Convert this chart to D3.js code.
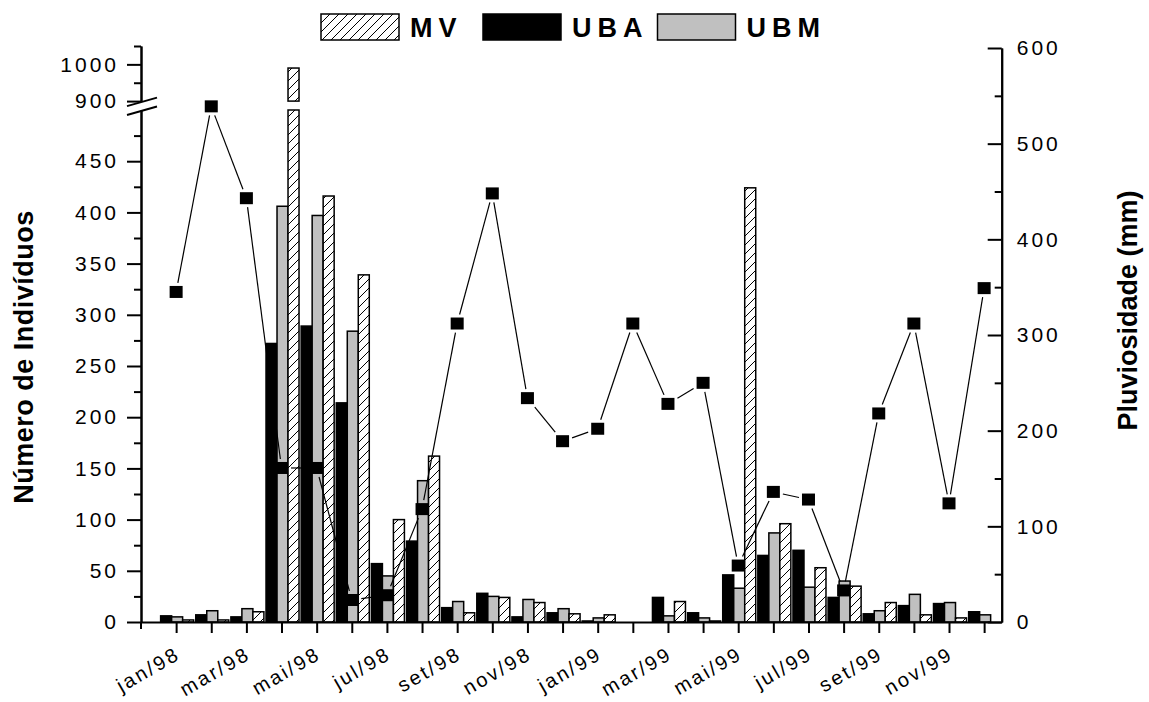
<!DOCTYPE html>
<html>
<head>
<meta charset="utf-8">
<script src="https://cdn.jsdelivr.net/npm/d3@7"></script>
<style>
  body { margin: 0; background: #fff; }
  svg { display: block; }
  text { font-family: "Liberation Sans", Arial, sans-serif; fill: #000; }
</style>
</head>
<body>
<svg id="chart" width="1149" height="702"></svg>
<script>
// Monthly samples, jan/98 .. dez/99
const months = ["jan/98","fev/98","mar/98","abr/98","mai/98","jun/98","jul/98","ago/98","set/98","out/98","nov/98","dez/98",
                "jan/99","fev/99","mar/99","abr/99","mai/99","jun/99","jul/99","ago/99","set/99","out/99","nov/99","dez/99"];
const monthLabels = ["jan/98","mar/98","mai/98","jul/98","set/98","nov/98","jan/99","mar/99","mai/99","jul/99","set/99","nov/99"];

// Number of individuals per site (null = no sample)
const uba = [6, 7, 5, 272, 289, 214, 57, 79, 14, 28, 5, 9, 1, null, 24, 9, 46, 65, 70, 24, 8, 16, 18, 10];
const ubm = [5, 11, 13, 406, 397, 284, 45, 138, 20, 25, 22, 13, 4, null, 6, 4, 33, 87, 34, 40, 11, 27, 19, 7];
const mv  = [2, 2, 10, 990, 416, 339, 100, 162, 9, 24, 19, 8, 7, null, 20, 1, 424, 96, 53, 35, 19, 7, 4, null];

// Monthly rainfall (mm)
const rain = [345, 539, 443, 161, 161, 23, 28, 118, 312, 448, 234, 189, 202, 312, 228, 250, 59, 136, 128, 33, 218, 312, 124, 349];

// Axis ticks
const leftLowTicks = [0, 50, 100, 150, 200, 250, 300, 350, 400, 450];
const leftLowMinor = [25, 75, 125, 175, 225, 275, 325, 375, 425, 475];
const leftHighTicks = [900, 1000];
const leftHighMinor = [950, 1050];
const rightTicks = [0, 100, 200, 300, 400, 500, 600];
const rightMinor = [50, 150, 250, 350, 450, 550];

const seriesNames = ["MV", "UBA", "UBM"];

const svg = d3.select("#chart");
const FONT = "\"Liberation Sans\", Arial, sans-serif";

// Scales
const x = d3.scaleLinear().domain([-1, 23.5]).range([141, 1001.7]);
const yLow = d3.scaleLinear().domain([0, 500]).range([622, 110]);      // lower segment of broken axis
const yHigh = d3.scaleLinear().domain([900, 1050]).range([101.1, 46]); // upper segment
const yR = d3.scaleLinear().domain([0, 600]).range([622, 48]);

// Hatch pattern for MV
const defs = svg.append("defs");
const pat = defs.append("pattern").attr("id", "hatch")
  .attr("patternUnits", "userSpaceOnUse").attr("width", 9).attr("height", 9);
pat.append("rect").attr("width", 9).attr("height", 9).attr("fill", "#fff");
pat.append("path").attr("d", "M-1,1 L1,-1 M0,9 L9,0 M8,10 L10,8")
  .attr("stroke", "#000").attr("stroke-width", 1);

const fills = { UBA: "#000", UBM: "#c0c0c0", MV: "url(#hatch)" };

// Bars: UBA, UBM, MV side by side around each month
const bw = 11;
const barSeries = [
  { name: "UBA", values: uba, k: -1 },
  { name: "UBM", values: ubm, k: 0 },
  { name: "MV",  values: mv,  k: 1 }
];
const barRects = [];
barSeries.forEach(s => {
  s.values.forEach((v, i) => {
    if (v == null) return;
    const cx = x(i) + 1 + s.k * bw;
    if (v <= 500) {
      barRects.push({ s: s.name, x0: cx - bw / 2, y0: yLow(v), y1: yLow(0) });
    } else {
      barRects.push({ s: s.name, x0: cx - bw / 2, y0: yLow(500), y1: yLow(0) });
      barRects.push({ s: s.name, x0: cx - bw / 2, y0: yHigh(v), y1: yHigh(900) });
    }
  });
});
svg.append("g").selectAll("rect").data(barRects).join("rect")
  .attr("x", d => d.x0).attr("y", d => d.y0)
  .attr("width", bw).attr("height", d => Math.max(0, d.y1 - d.y0))
  .attr("fill", d => fills[d.s])
  .attr("stroke", "#000").attr("stroke-width", 1.5);

// Rainfall line, segments stop short of the markers
const mw = 13, mh = 12, gap = 3;
const pts = rain.map((r, i) => [x(i), yR(r)]);
const segs = [];
for (let i = 0; i < pts.length - 1; i++) {
  const [ax, ay] = pts[i], [bx, by] = pts[i + 1];
  const dx = bx - ax, dy = by - ay, L = Math.hypot(dx, dy);
  const ux = dx / L, uy = dy / L;
  const s = Math.min((mw / 2 + gap) / Math.max(Math.abs(ux), 1e-6), (mh / 2 + gap) / Math.max(Math.abs(uy), 1e-6));
  if (2 * s >= L) continue;
  segs.push([ax + ux * s, ay + uy * s, bx - ux * s, by - uy * s]);
}
svg.append("g").selectAll("line").data(segs).join("line")
  .attr("x1", d => d[0]).attr("y1", d => d[1]).attr("x2", d => d[2]).attr("y2", d => d[3])
  .attr("stroke", "#000").attr("stroke-width", 1.2);
svg.append("g").selectAll("rect").data(pts).join("rect")
  .attr("x", d => d[0] - mw / 2).attr("y", d => d[1] - mh / 2)
  .attr("width", mw).attr("height", mh).attr("fill", "#000");

// Axes
const intFmt = d3.format("d");
function styleAxis(g) {
  g.selectAll("path.domain").attr("stroke", "#000").attr("stroke-width", 2);
  g.selectAll(".tick line").attr("stroke", "#000").attr("stroke-width", 2);
  g.selectAll(".tick text").attr("font-family", FONT).attr("font-size", 21)
    .attr("letter-spacing", 3).attr("fill", "#000");
}
const xL = x.range()[0], xR = x.range()[1];

// left, lower segment
svg.append("g").attr("transform", `translate(${xL},0)`)
  .call(d3.axisLeft(yLow).tickValues(leftLowMinor).tickSize(7).tickSizeOuter(0).tickFormat(""))
  .call(styleAxis);
svg.append("g").attr("transform", `translate(${xL},0)`)
  .call(d3.axisLeft(yLow).tickValues(leftLowTicks).tickSize(14).tickSizeOuter(0).tickPadding(8).tickFormat(intFmt))
  .call(styleAxis);
// left, upper segment
svg.append("g").attr("transform", `translate(${xL},0)`)
  .call(d3.axisLeft(yHigh).tickValues(leftHighMinor).tickSize(7).tickSizeOuter(0).tickFormat(""))
  .call(styleAxis);
svg.append("g").attr("transform", `translate(${xL},0)`)
  .call(d3.axisLeft(yHigh).tickValues(leftHighTicks).tickSize(14).tickSizeOuter(0).tickPadding(8).tickFormat(intFmt))
  .call(styleAxis);

// break marks on the left axis
const b1 = yHigh(900), b2 = yLow(500);
svg.append("g").selectAll("line").data([b1 + 1, b2 + 1]).join("line")
  .attr("x1", xL - 14).attr("y1", d => d + 4)
  .attr("x2", xL + 16).attr("y2", d => d - 4.5)
  .attr("stroke", "#000").attr("stroke-width", 2);

// right axis (ticks point inward)
svg.append("g").attr("transform", `translate(${xR},0)`)
  .call(d3.axisRight(yR).tickValues(rightMinor).tickSize(-7).tickSizeOuter(0).tickFormat(""))
  .call(styleAxis);
svg.append("g").attr("transform", `translate(${xR},0)`)
  .call(d3.axisRight(yR).tickValues(rightTicks).tickSize(-14).tickSizeOuter(0).tickPadding(15).tickFormat(intFmt))
  .call(styleAxis);

// bottom axis
svg.append("g").attr("transform", `translate(0,${yLow(0)})`)
  .call(d3.axisBottom(x).tickValues(d3.range(months.length)).tickSize(11).tickSizeOuter(0).tickFormat(""))
  .call(styleAxis);
svg.append("line").attr("x1", xL).attr("x2", xL).attr("y1", yLow(0)).attr("y2", yLow(0) + 7)
  .attr("stroke", "#000").attr("stroke-width", 2);

svg.append("g").selectAll("text").data(monthLabels).join("text")
  .attr("transform", d => `translate(${x(months.indexOf(d)) + 5.5},${yLow(0) + 36}) rotate(-30)`)
  .attr("text-anchor", "end")
  .attr("font-size", 20).attr("letter-spacing", 2.5)
  .text(d => d);

// Axis titles
svg.append("text")
  .attr("transform", `translate(33,${(yLow(0) + yHigh(1050)) / 2 + 23}) rotate(-90)`)
  .attr("text-anchor", "middle").attr("font-weight", "bold").attr("font-size", 27)
  .attr("letter-spacing", 0.5)
  .text("Número de Indivíduos");
svg.append("text")
  .attr("transform", `translate(1137,310.5) rotate(-90)`)
  .attr("text-anchor", "middle").attr("font-weight", "bold").attr("font-size", 27)
  .text("Pluviosidade (mm)");

// Legend
const legendX = [321, 483, 657.5];
const lg = svg.append("g").selectAll("g").data(seriesNames).join("g")
  .attr("transform", (d, i) => `translate(${legendX[i]},14)`);
lg.append("rect").attr("width", 78).attr("height", 26)
  .attr("fill", d => fills[d]).attr("stroke", "#000").attr("stroke-width", 1.5);
lg.append("text").attr("x", 89).attr("y", 23)
  .attr("font-weight", "bold").attr("font-size", 27).attr("letter-spacing", 6)
  .text(d => d);
</script>
</body>
</html>
